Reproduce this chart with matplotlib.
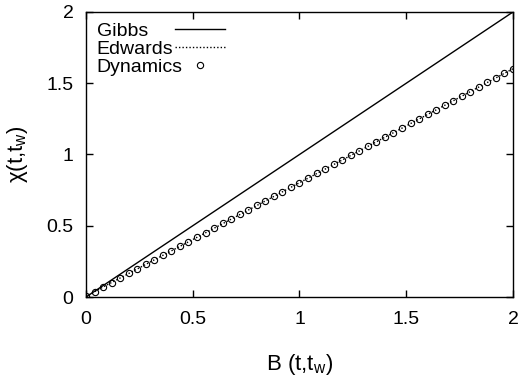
import matplotlib
matplotlib.use("Agg")
import matplotlib.pyplot as plt

plt.rcParams['font.family'] = ['Liberation Sans', 'DejaVu Sans']
plt.rcParams['mathtext.fontset'] = 'custom'
plt.rcParams['mathtext.rm'] = 'Liberation Sans'
plt.rcParams['mathtext.it'] = 'Liberation Sans'

# Gibbs: straight line
gibbs_B = [0.0, 2.0]
gibbs_chi = [0.0, 2.0]

# Edwards: dotted curve
edwards_B = [0.0, 0.02, 0.05, 0.1, 0.2, 0.3, 0.5, 0.75, 1.0, 1.25, 1.5, 1.75, 2.0]
edwards_chi = [0.0, 0.02, 0.046, 0.086, 0.165, 0.245, 0.403, 0.602, 0.802, 1.001, 1.201, 1.401, 1.602]

# Dynamics: open circles
dyn_B = [0.0, 0.04, 0.08, 0.12, 0.16, 0.20, 0.24, 0.28, 0.32, 0.36,
         0.40, 0.44, 0.48, 0.52, 0.56, 0.60, 0.64, 0.68, 0.72, 0.76,
         0.80, 0.84, 0.88, 0.92, 0.96, 1.00, 1.04, 1.08, 1.12, 1.16,
         1.20, 1.24, 1.28, 1.32, 1.36, 1.40, 1.44, 1.48, 1.52, 1.56,
         1.60, 1.64, 1.68, 1.72, 1.76, 1.80, 1.84, 1.88, 1.92, 1.96, 2.00]
dyn_chi = [0.005, 0.038, 0.070, 0.101, 0.133, 0.166, 0.198, 0.230, 0.262, 0.293,
           0.325, 0.357, 0.389, 0.421, 0.452, 0.484, 0.516, 0.548, 0.580, 0.612,
           0.644, 0.676, 0.708, 0.740, 0.772, 0.803, 0.835, 0.867, 0.899, 0.931,
           0.963, 0.995, 1.027, 1.059, 1.091, 1.122, 1.154, 1.186, 1.218, 1.250,
           1.282, 1.314, 1.346, 1.378, 1.410, 1.442, 1.474, 1.506, 1.538, 1.570, 1.602]

fig = plt.figure(figsize=(5.19, 3.82), dpi=100)
ax = fig.add_axes([0.1657, 0.2225, 0.8227, 0.7461])

ax.plot(gibbs_B, gibbs_chi, color='black', lw=1.0, label='Gibbs')
ax.plot(edwards_B, edwards_chi, color='black', lw=1.0, ls=(0, (1, 1.5)), label='Edwards')
ax.plot(dyn_B, dyn_chi, ls='none', marker='o', ms=4.5, mfc='none', mec='black',
        mew=0.8, label='Dynamics')

ax.set_xlim(0, 2)
ax.set_ylim(0, 2)
ax.set_xticks([0, 0.5, 1, 1.5, 2])
ax.set_xticklabels(['0', '0.5', '1', '1.5', '2'])
ax.set_yticks([0, 0.5, 1, 1.5, 2])
ax.set_yticklabels(['0', '0.5', '1', '1.5', '2'])
ax.tick_params(direction='in', length=5, width=1, top=True, right=True,
               labelsize=14)
ax.tick_params(axis='x', pad=10)
ax.tick_params(axis='y', pad=9)
for s in ax.spines.values():
    s.set_linewidth(1.0)

ax.set_xlabel('B (t,t$_{\\rm w}$)', fontsize=16, labelpad=17)
ax.set_ylabel('χ(t,t$_{\\rm w}$)', fontsize=16, labelpad=12)

leg = ax.legend(loc='upper left', frameon=False, markerfirst=False, fontsize=14,
                handlelength=2.6, handletextpad=0.0, labelspacing=0.0,
                borderaxespad=0.3, borderpad=0.25)

# keep the label text left aligned with the keys in one column (gnuplot style)
fig.canvas.draw()
renderer = fig.canvas.get_renderer()
column = leg._legend_handle_box.get_children()[0]
column.align = 'left'
for row, txt in zip(column.get_children(), leg.get_texts()):
    w = txt.get_window_extent(renderer).width
    row.sep = (78 - w) * 72.0 / fig.dpi

fig.savefig('out.png', dpi=100)
